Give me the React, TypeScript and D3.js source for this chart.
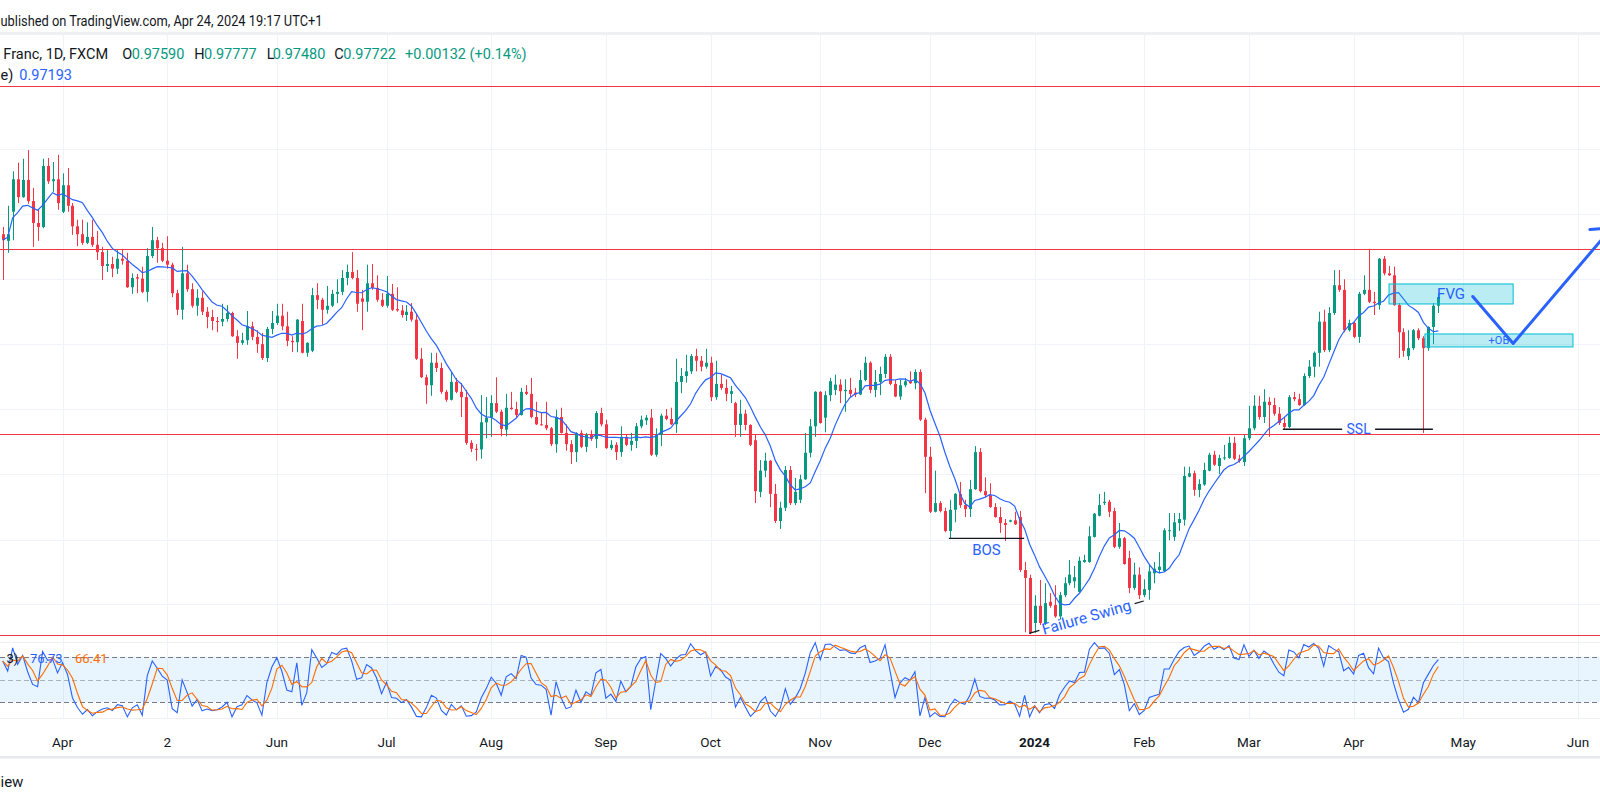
import React, { useRef, useEffect } from 'react';
import * as d3 from 'd3';

type Bar = [number, number, number, number]; // open, high, low, close

// EUR/CHF daily candles
const mar2023: Bar[] = [
  [0.9867, 0.9878, 0.9798, 0.9858], [0.9857, 0.9910, 0.9839, 0.9867], [0.9901, 0.9962, 0.9858, 0.9950],
  [0.9950, 0.9975, 0.9914, 0.9923], [0.9923, 0.9981, 0.9922, 0.9949], [0.9949, 0.9994, 0.9913, 0.9917],
  [0.9917, 0.9937, 0.9848, 0.9884], [0.9884, 0.9905, 0.9857, 0.9878], [0.9878, 0.9981, 0.9876, 0.9970],
  [0.9970, 0.9982, 0.9943, 0.9947], [0.9947, 0.9976, 0.9931, 0.9950], [0.9950, 0.9987, 0.9904, 0.9914],
];
const apr2023: Bar[] = [
  [0.9901, 0.9959, 0.9899, 0.9941], [0.9941, 0.9967, 0.9901, 0.9910], [0.9910, 0.9914, 0.9866, 0.9879],
  [0.9879, 0.9889, 0.9849, 0.9867], [0.9867, 0.9889, 0.9851, 0.9854], [0.9854, 0.9885, 0.9852, 0.9863],
  [0.9863, 0.9889, 0.9848, 0.9851], [0.9851, 0.9872, 0.9828, 0.9840], [0.9840, 0.9848, 0.9798, 0.9819],
  [0.9819, 0.9843, 0.9810, 0.9822], [0.9822, 0.9833, 0.9802, 0.9815], [0.9815, 0.9843, 0.9807, 0.9830],
  [0.9830, 0.9845, 0.9821, 0.9827], [0.9827, 0.9839, 0.9786, 0.9787], [0.9787, 0.9808, 0.9777, 0.9801],
  [0.9802, 0.9807, 0.9778, 0.9800], [0.9800, 0.9818, 0.9778, 0.9780], [0.9780, 0.9846, 0.9765, 0.9834],
  [0.9834, 0.9878, 0.9831, 0.9858], [0.9858, 0.9863, 0.9824, 0.9846],
];
const may2023: Bar[] = [
  [0.9846, 0.9854, 0.9825, 0.9827], [0.9827, 0.9864, 0.9815, 0.9821], [0.9821, 0.9824, 0.9772, 0.9778],
  [0.9778, 0.9783, 0.9745, 0.9753], [0.9753, 0.9848, 0.9738, 0.9808], [0.9808, 0.9821, 0.9780, 0.9784],
  [0.9784, 0.9793, 0.9756, 0.9759], [0.9759, 0.9784, 0.9744, 0.9771], [0.9771, 0.9781, 0.9745, 0.9750],
  [0.9750, 0.9757, 0.9725, 0.9742], [0.9742, 0.9753, 0.9722, 0.9736], [0.9736, 0.9742, 0.9719, 0.9735],
  [0.9735, 0.9762, 0.9728, 0.9739], [0.9739, 0.9760, 0.9735, 0.9748], [0.9748, 0.9750, 0.9712, 0.9713],
  [0.9713, 0.9722, 0.9679, 0.9703], [0.9703, 0.9718, 0.9700, 0.9707], [0.9707, 0.9751, 0.9700, 0.9728],
  [0.9728, 0.9735, 0.9707, 0.9712], [0.9712, 0.9722, 0.9688, 0.9701], [0.9701, 0.9718, 0.9677, 0.9680],
  [0.9680, 0.9727, 0.9674, 0.9724], [0.9724, 0.9751, 0.9716, 0.9733],
];
const jun2023: Bar[] = [
  [0.9733, 0.9762, 0.9730, 0.9744], [0.9744, 0.9762, 0.9722, 0.9728], [0.9728, 0.9750, 0.9698, 0.9706],
  [0.9706, 0.9713, 0.9689, 0.9704], [0.9704, 0.9739, 0.9689, 0.9738], [0.9736, 0.9762, 0.9687, 0.9688],
  [0.9688, 0.9704, 0.9682, 0.9703], [0.9691, 0.9786, 0.9689, 0.9775], [0.9775, 0.9793, 0.9754, 0.9768],
  [0.9768, 0.9771, 0.9730, 0.9753], [0.9753, 0.9789, 0.9747, 0.9759], [0.9759, 0.9783, 0.9757, 0.9777],
  [0.9777, 0.9799, 0.9763, 0.9780], [0.9780, 0.9813, 0.9775, 0.9801], [0.9801, 0.9821, 0.9790, 0.9810],
  [0.9810, 0.9840, 0.9799, 0.9801], [0.9801, 0.9813, 0.9750, 0.9762], [0.9770, 0.9783, 0.9722, 0.9765],
  [0.9765, 0.9821, 0.9750, 0.9793], [0.9793, 0.9822, 0.9783, 0.9786], [0.9786, 0.9805, 0.9765, 0.9768],
  [0.9768, 0.9778, 0.9757, 0.9759],
];
const jul2023: Bar[] = [
  [0.9759, 0.9804, 0.9756, 0.9777], [0.9777, 0.9792, 0.9751, 0.9753], [0.9754, 0.9787, 0.9750, 0.9752],
  [0.9752, 0.9760, 0.9741, 0.9745], [0.9745, 0.9760, 0.9736, 0.9750], [0.9750, 0.9763, 0.9735, 0.9738],
  [0.9738, 0.9747, 0.9677, 0.9679], [0.9679, 0.9695, 0.9650, 0.9651], [0.9651, 0.9655, 0.9611, 0.9639],
  [0.9639, 0.9688, 0.9623, 0.9673], [0.9673, 0.9688, 0.9659, 0.9665], [0.9665, 0.9673, 0.9626, 0.9629],
  [0.9629, 0.9632, 0.9614, 0.9617], [0.9617, 0.9659, 0.9616, 0.9644], [0.9644, 0.9650, 0.9627, 0.9629],
  [0.9629, 0.9642, 0.9591, 0.9621], [0.9621, 0.9632, 0.9549, 0.9552], [0.9552, 0.9556, 0.9538, 0.9543],
  [0.9543, 0.9550, 0.9525, 0.9542], [0.9542, 0.9624, 0.9528, 0.9583], [0.9583, 0.9621, 0.9559, 0.9590],
];
const aug2023: Bar[] = [
  [0.9590, 0.9624, 0.9561, 0.9612], [0.9612, 0.9651, 0.9597, 0.9599], [0.9599, 0.9602, 0.9562, 0.9573],
  [0.9572, 0.9626, 0.9562, 0.9605], [0.9605, 0.9629, 0.9602, 0.9603], [0.9603, 0.9614, 0.9590, 0.9594],
  [0.9594, 0.9635, 0.9593, 0.9629], [0.9629, 0.9639, 0.9624, 0.9626], [0.9626, 0.9650, 0.9589, 0.9591],
  [0.9591, 0.9614, 0.9579, 0.9580], [0.9580, 0.9597, 0.9578, 0.9579], [0.9579, 0.9614, 0.9571, 0.9574],
  [0.9574, 0.9576, 0.9547, 0.9550], [0.9550, 0.9602, 0.9537, 0.9591], [0.9591, 0.9605, 0.9566, 0.9567],
  [0.9567, 0.9580, 0.9540, 0.9550], [0.9550, 0.9556, 0.9520, 0.9538], [0.9538, 0.9568, 0.9523, 0.9567],
  [0.9567, 0.9571, 0.9544, 0.9546], [0.9546, 0.9567, 0.9538, 0.9564], [0.9564, 0.9571, 0.9555, 0.9558],
  [0.9558, 0.9600, 0.9544, 0.9597], [0.9597, 0.9605, 0.9577, 0.9580],
];
const sep2023: Bar[] = [
  [0.9580, 0.9587, 0.9543, 0.9544], [0.9544, 0.9556, 0.9541, 0.9549], [0.9549, 0.9553, 0.9526, 0.9538],
  [0.9538, 0.9577, 0.9531, 0.9561], [0.9561, 0.9565, 0.9547, 0.9549], [0.9549, 0.9567, 0.9540, 0.9555],
  [0.9555, 0.9582, 0.9544, 0.9577], [0.9577, 0.9593, 0.9574, 0.9587], [0.9586, 0.9594, 0.9579, 0.9590],
  [0.9590, 0.9603, 0.9532, 0.9534], [0.9534, 0.9574, 0.9531, 0.9564], [0.9564, 0.9596, 0.9547, 0.9593],
  [0.9593, 0.9603, 0.9586, 0.9588], [0.9588, 0.9605, 0.9579, 0.9580], [0.9580, 0.9679, 0.9567, 0.9644],
  [0.9644, 0.9665, 0.9627, 0.9653], [0.9653, 0.9685, 0.9643, 0.9660], [0.9660, 0.9686, 0.9656, 0.9683],
  [0.9683, 0.9694, 0.9660, 0.9676], [0.9676, 0.9683, 0.9660, 0.9667], [0.9667, 0.9694, 0.9664, 0.9673],
];
const oct2023: Bar[] = [
  [0.9673, 0.9682, 0.9615, 0.9621], [0.9621, 0.9676, 0.9617, 0.9641], [0.9641, 0.9655, 0.9632, 0.9635],
  [0.9635, 0.9648, 0.9615, 0.9626], [0.9626, 0.9638, 0.9612, 0.9630], [0.9612, 0.9614, 0.9561, 0.9579],
  [0.9579, 0.9617, 0.9561, 0.9596], [0.9596, 0.9602, 0.9571, 0.9579], [0.9579, 0.9580, 0.9547, 0.9549],
  [0.9556, 0.9565, 0.9461, 0.9479], [0.9478, 0.9526, 0.9470, 0.9510], [0.9510, 0.9537, 0.9500, 0.9525],
  [0.9525, 0.9526, 0.9455, 0.9475], [0.9475, 0.9490, 0.9431, 0.9434], [0.9434, 0.9463, 0.9422, 0.9454],
  [0.9454, 0.9517, 0.9449, 0.9511], [0.9511, 0.9517, 0.9458, 0.9461], [0.9461, 0.9499, 0.9458, 0.9478],
  [0.9466, 0.9504, 0.9461, 0.9497], [0.9497, 0.9567, 0.9496, 0.9537], [0.9537, 0.9588, 0.9530, 0.9577],
  [0.9577, 0.9630, 0.9561, 0.9629],
];
const nov2023: Bar[] = [
  [0.9629, 0.9630, 0.9581, 0.9582], [0.9590, 0.9630, 0.9568, 0.9624], [0.9624, 0.9650, 0.9615, 0.9645],
  [0.9632, 0.9655, 0.9624, 0.9640], [0.9640, 0.9648, 0.9612, 0.9630], [0.9630, 0.9648, 0.9599, 0.9632],
  [0.9632, 0.9650, 0.9621, 0.9626], [0.9628, 0.9635, 0.9621, 0.9625], [0.9625, 0.9662, 0.9624, 0.9647],
  [0.9647, 0.9682, 0.9645, 0.9673], [0.9673, 0.9675, 0.9627, 0.9632], [0.9632, 0.9662, 0.9621, 0.9644],
  [0.9644, 0.9667, 0.9624, 0.9656], [0.9656, 0.9686, 0.9650, 0.9682], [0.9682, 0.9686, 0.9639, 0.9641],
  [0.9641, 0.9647, 0.9621, 0.9622], [0.9622, 0.9647, 0.9617, 0.9639], [0.9639, 0.9650, 0.9636, 0.9645],
  [0.9645, 0.9660, 0.9641, 0.9642], [0.9642, 0.9663, 0.9633, 0.9659], [0.9659, 0.9663, 0.9585, 0.9587],
  [0.9587, 0.9590, 0.9476, 0.9531],
];
const dec2023: Bar[] = [
  [0.9531, 0.9546, 0.9446, 0.9448], [0.9448, 0.9510, 0.9447, 0.9461], [0.9461, 0.9464, 0.9447, 0.9449],
  [0.9449, 0.9454, 0.9417, 0.9419], [0.9419, 0.9466, 0.9408, 0.9451], [0.9451, 0.9476, 0.9432, 0.9475],
  [0.9475, 0.9493, 0.9454, 0.9458], [0.9458, 0.9466, 0.9440, 0.9452], [0.9452, 0.9496, 0.9440, 0.9482],
  [0.9482, 0.9547, 0.9481, 0.9538], [0.9538, 0.9544, 0.9477, 0.9479], [0.9479, 0.9500, 0.9470, 0.9473],
  [0.9473, 0.9491, 0.9454, 0.9455], [0.9455, 0.9461, 0.9439, 0.9440], [0.9440, 0.9455, 0.9416, 0.9431],
  [0.9431, 0.9437, 0.9404, 0.9428], [0.9433, 0.9436, 0.9432, 0.9435], [0.9435, 0.9448, 0.9428, 0.9429],
  [0.9440, 0.9449, 0.9357, 0.9360], [0.9360, 0.9372, 0.9266, 0.9348], [0.9348, 0.9353, 0.9263, 0.9265],
];
const jan2024: Bar[] = [
  [0.9280, 0.9322, 0.9265, 0.9306], [0.9306, 0.9345, 0.9277, 0.9280], [0.9280, 0.9340, 0.9277, 0.9310],
  [0.9312, 0.9325, 0.9303, 0.9306], [0.9307, 0.9337, 0.9288, 0.9290], [0.9290, 0.9327, 0.9285, 0.9322],
  [0.9322, 0.9349, 0.9319, 0.9340], [0.9340, 0.9375, 0.9337, 0.9353], [0.9343, 0.9366, 0.9333, 0.9349],
  [0.9327, 0.9380, 0.9326, 0.9374], [0.9372, 0.9383, 0.9371, 0.9375], [0.9372, 0.9426, 0.9371, 0.9411],
  [0.9410, 0.9446, 0.9409, 0.9445], [0.9442, 0.9475, 0.9441, 0.9458], [0.9461, 0.9478, 0.9458, 0.9463],
  [0.9463, 0.9466, 0.9440, 0.9448], [0.9449, 0.9454, 0.9393, 0.9395], [0.9395, 0.9431, 0.9392, 0.9408],
  [0.9408, 0.9410, 0.9368, 0.9369], [0.9378, 0.9389, 0.9325, 0.9333], [0.9333, 0.9371, 0.9330, 0.9353],
  [0.9353, 0.9364, 0.9316, 0.9322],
];
const feb2024: Bar[] = [
  [0.9322, 0.9346, 0.9319, 0.9331], [0.9330, 0.9368, 0.9315, 0.9358], [0.9355, 0.9372, 0.9340, 0.9362],
  [0.9360, 0.9387, 0.9355, 0.9365], [0.9358, 0.9423, 0.9357, 0.9420], [0.9419, 0.9446, 0.9405, 0.9420],
  [0.9410, 0.9446, 0.9404, 0.9432], [0.9431, 0.9446, 0.9419, 0.9437], [0.9436, 0.9516, 0.9427, 0.9502],
  [0.9501, 0.9516, 0.9500, 0.9506], [0.9506, 0.9510, 0.9472, 0.9481], [0.9481, 0.9497, 0.9470, 0.9490],
  [0.9489, 0.9522, 0.9487, 0.9511], [0.9510, 0.9537, 0.9509, 0.9534], [0.9534, 0.9540, 0.9517, 0.9519],
  [0.9517, 0.9534, 0.9505, 0.9529], [0.9529, 0.9549, 0.9526, 0.9530], [0.9529, 0.9561, 0.9528, 0.9552],
  [0.9552, 0.9561, 0.9526, 0.9528], [0.9528, 0.9534, 0.9522, 0.9525], [0.9523, 0.9564, 0.9517, 0.9559],
];
const mar2024: Bar[] = [
  [0.9559, 0.9608, 0.9556, 0.9574], [0.9574, 0.9624, 0.9571, 0.9608], [0.9608, 0.9623, 0.9587, 0.9591],
  [0.9591, 0.9633, 0.9582, 0.9614], [0.9614, 0.9621, 0.9561, 0.9609], [0.9609, 0.9620, 0.9593, 0.9596],
  [0.9596, 0.9606, 0.9579, 0.9582], [0.9582, 0.9591, 0.9573, 0.9576], [0.9576, 0.9624, 0.9574, 0.9621],
  [0.9621, 0.9629, 0.9615, 0.9618], [0.9618, 0.9626, 0.9608, 0.9609], [0.9609, 0.9657, 0.9608, 0.9653],
  [0.9653, 0.9677, 0.9650, 0.9667], [0.9667, 0.9690, 0.9651, 0.9688], [0.9688, 0.9750, 0.9667, 0.9735],
  [0.9735, 0.9753, 0.9689, 0.9692], [0.9692, 0.9757, 0.9689, 0.9748], [0.9748, 0.9813, 0.9745, 0.9790],
  [0.9790, 0.9813, 0.9780, 0.9783], [0.9783, 0.9799, 0.9719, 0.9722], [0.9722, 0.9738, 0.9720, 0.9733],
];
const apr2024: Bar[] = [
  [0.9733, 0.9735, 0.9710, 0.9712], [0.9712, 0.9780, 0.9703, 0.9777], [0.9777, 0.9805, 0.9775, 0.9783],
  [0.9783, 0.9845, 0.9763, 0.9765], [0.9765, 0.9780, 0.9745, 0.9763], [0.9760, 0.9831, 0.9753, 0.9830],
  [0.9830, 0.9834, 0.9805, 0.9808], [0.9808, 0.9819, 0.9804, 0.9805], [0.9805, 0.9818, 0.9759, 0.9760],
  [0.9760, 0.9763, 0.9680, 0.9719], [0.9719, 0.9725, 0.9682, 0.9691], [0.9683, 0.9722, 0.9677, 0.9695],
  [0.9695, 0.9724, 0.9692, 0.9722], [0.9722, 0.9725, 0.9707, 0.9710], [0.9710, 0.9713, 0.9567, 0.9695],
  [0.9695, 0.9728, 0.9691, 0.9727], [0.9727, 0.9763, 0.9701, 0.9759], [0.97590, 0.97777, 0.97480, 0.97722],
];

const candles: Bar[] = [
  ...mar2023, ...apr2023, ...may2023, ...jun2023, ...jul2023, ...aug2023, ...sep2023,
  ...oct2023, ...nov2023, ...dec2023, ...jan2024, ...feb2024, ...mar2024, ...apr2024,
];

// trading calendar (weekdays, no bar on New Year's Day)
const firstDay = '2023-03-16';
const lastDay = '2024-06-28';
const missingDays = ['2024-01-01'];

const tickDays = ['2023-04-03', '2023-05-02', '2023-06-01', '2023-07-03', '2023-08-01', '2023-09-01', '2023-10-02',
  '2023-11-01', '2023-12-01', '2024-01-02', '2024-02-01', '2024-03-01', '2024-04-01', '2024-05-01', '2024-06-03'];
const tickLabels = ['Apr', '2', 'Jun', 'Jul', 'Aug', 'Sep', 'Oct', 'Nov', 'Dec', '2024', 'Feb', 'Mar', 'Apr', 'May', 'Jun'];

const maLength = 9;
const stochLength = 14;
const stochSmooth = 3;

// horizontal rays (price) and price grid
const levels = [1.0091, 0.9845, 0.9565, 0.9262];
const gridLevels = [0.9308, 0.9406, 0.9505, 0.9603, 0.9701, 0.9799, 0.9897, 0.9995];
const stochLevels = [80, 50, 20];

// drawings in [bar index, price]
const sslLine = [[256.8, 0.95725], [286.9, 0.95725]];
const sslGap = [268.7, 275.3];
const bosLine = [[189.8, 0.94079], [204.9, 0.94079]];
const swingLine = [[205.9, 0.92644], [228.9, 0.93132]];
const fvgBox = [[278.1, 0.97919], [303.0, 0.97617]];
const obBox = [[285.3, 0.97164], [315.0, 0.96968]];
const arrowPath = [[294.9, 0.9773], [303.0, 0.9702], [322.8, 0.9877]];
const arrowWing = [318.4, 0.9874];

const W = 1600;
const H = 802;
const FONT = 'Roboto, "Noto Sans", sans-serif';
const UP = '#089981';
const DOWN = '#f23645';
const BLUE = '#2962ff';

const App: React.FC = () => {
  const svgRef = useRef<SVGSVGElement | null>(null);

  useEffect(() => {
    if (!svgRef.current) return;
    const svg = d3.select(svgRef.current);
    svg.selectAll('*').remove();

    // calendar
    const days: string[] = [];
    const end = new Date(lastDay + 'T00:00:00Z');
    for (let d = new Date(firstDay + 'T00:00:00Z'); d <= end; d.setUTCDate(d.getUTCDate() + 1)) {
      const wd = d.getUTCDay();
      const key = d.toISOString().slice(0, 10);
      if (wd !== 0 && wd !== 6 && !missingDays.includes(key)) days.push(key);
    }

    const x = d3.scaleLinear().domain([0, 320]).range([2.7, 1597.9]);
    const y = d3.scaleLinear().domain([0.92, 1.01]).range([675.96, 79.93]);
    const ys = d3.scaleLinear().domain([0, 100]).range([717.3, 642.3]);

    // indicators
    const closes = candles.map(c => c[3]);
    const ma = closes.map((_, i) => d3.mean(closes.slice(Math.max(0, i - maLength + 1), i + 1)) as number);
    const k = candles.map((c, i) => {
      const win = candles.slice(Math.max(0, i - stochLength + 1), i + 1);
      const hh = d3.max(win, b => b[1]) as number;
      const ll = d3.min(win, b => b[2]) as number;
      return hh === ll ? 50 : (100 * (c[3] - ll)) / (hh - ll);
    });
    const dLine = k.map((_, i) => d3.mean(k.slice(Math.max(0, i - stochSmooth + 1), i + 1)) as number);

    svg.append('rect').attr('width', W).attr('height', H).attr('fill', '#ffffff');

    // grid
    const grid = svg.append('g').attr('stroke', '#f0f3fa').attr('stroke-width', 1);
    tickDays.forEach(t => {
      const xi = Math.round(x(days.indexOf(t))) + 0.5;
      grid.append('line').attr('x1', xi).attr('x2', xi).attr('y1', 35).attr('y2', 718);
    });
    gridLevels.forEach(p => {
      const yy = Math.round(y(p)) + 0.5;
      grid.append('line').attr('x1', 0).attr('x2', W).attr('y1', yy).attr('y2', yy);
    });

    // header separator and pane borders
    svg.append('rect').attr('x', 0).attr('y', 32).attr('width', W).attr('height', 3).attr('fill', '#eef0f4');
    svg.append('line').attr('x1', 0).attr('x2', W).attr('y1', 642.5).attr('y2', 642.5).attr('stroke', '#eef0f4');
    svg.append('line').attr('x1', 0).attr('x2', W).attr('y1', 718.5).attr('y2', 718.5).attr('stroke', '#eef0f4');
    svg.append('rect').attr('x', 0).attr('y', 756).attr('width', W).attr('height', 2.5).attr('fill', '#e6e8ee');

    // stochastic band
    svg.append('rect').attr('x', 0).attr('width', W)
      .attr('y', ys(stochLevels[0])).attr('height', ys(stochLevels[2]) - ys(stochLevels[0]))
      .attr('fill', 'rgba(33,150,243,0.1)');
    stochLevels.forEach((lv, i) => {
      const yy = Math.round(ys(lv)) + 0.5;
      svg.append('line').attr('x1', 0).attr('x2', W).attr('y1', yy).attr('y2', yy)
        .attr('stroke', '#787b86').attr('stroke-opacity', i === 1 ? 0.55 : 1)
        .attr('stroke-dasharray', '5,3');
    });

    // horizontal rays
    levels.forEach(p => {
      const yy = Math.round(y(p)) + 0.5;
      svg.append('line').attr('x1', 0).attr('x2', W).attr('y1', yy).attr('y2', yy)
        .attr('stroke', DOWN).attr('stroke-width', 1.2);
    });

    // candles
    const cg = svg.append('g');
    candles.forEach((c, i) => {
      const [o, h, l, cl] = c;
      const col = cl >= o ? UP : DOWN;
      const cx = Math.round(x(i));
      cg.append('line').attr('x1', cx + 0.5).attr('x2', cx + 0.5)
        .attr('y1', y(Math.max(h, o, cl))).attr('y2', y(Math.min(l, o, cl)))
        .attr('stroke', col).attr('stroke-width', 1);
      const top = y(Math.max(o, cl));
      const bh = Math.max(1, y(Math.min(o, cl)) - top);
      cg.append('rect').attr('x', cx - 1).attr('y', top).attr('width', 3).attr('height', bh).attr('fill', col);
    });

    // moving average
    const line = d3.line<number>().x((_, i) => x(i)).y(v => y(v));
    svg.append('path').attr('d', line(ma)).attr('fill', 'none').attr('stroke', BLUE).attr('stroke-width', 1.2);

    const label = (tx: number, ty: number, s: string, size: number, color: string,
      anchor = 'start', weight = 'normal') =>
      svg.append('text').attr('x', tx).attr('y', ty).text(s)
        .attr('font-family', FONT).attr('font-size', size).attr('fill', color)
        .attr('text-anchor', anchor).attr('font-weight', weight);

    // SSL
    const segs = [[sslLine[0][0], sslGap[0]], [sslGap[1], sslLine[1][0]]];
    segs.forEach(([a, b]) => {
      svg.append('line').attr('x1', x(a)).attr('x2', x(b)).attr('y1', y(sslLine[0][1])).attr('y2', y(sslLine[0][1]))
        .attr('stroke', '#131722').attr('stroke-width', 1.3);
    });
    label(x((sslGap[0] + sslGap[1]) / 2), y(sslLine[0][1]) + 5, 'SSL', 14, BLUE, 'middle');

    // BOS
    svg.append('line').attr('x1', x(bosLine[0][0])).attr('x2', x(bosLine[1][0]))
      .attr('y1', y(bosLine[0][1])).attr('y2', y(bosLine[1][1])).attr('stroke', '#131722').attr('stroke-width', 1.3);
    label(x((bosLine[0][0] + bosLine[1][0]) / 2), y(bosLine[0][1]) + 17, 'BOS', 15, BLUE, 'middle');

    // failure swing trend line with its text in the middle
    const sx1 = x(swingLine[0][0]), sy1 = y(swingLine[0][1]);
    const sx2 = x(swingLine[1][0]), sy2 = y(swingLine[1][1]);
    const lerp = (t: number) => [sx1 + (sx2 - sx1) * t, sy1 + (sy2 - sy1) * t];
    [[0, 0.09], [0.92, 1]].forEach(([a, b]) => {
      const p = lerp(a), q = lerp(b);
      svg.append('line').attr('x1', p[0]).attr('y1', p[1]).attr('x2', q[0]).attr('y2', q[1])
        .attr('stroke', '#131722').attr('stroke-width', 1.2);
    });
    const ang = (Math.atan2(sy2 - sy1, sx2 - sx1) * 180) / Math.PI;
    const mid = lerp(0.5);
    svg.append('text').attr('transform', `translate(${mid[0]},${mid[1]}) rotate(${ang})`)
      .attr('text-anchor', 'middle').attr('dy', '0.35em').text('Failure Swing')
      .attr('font-family', FONT).attr('font-size', 15.5).attr('fill', BLUE);

    // boxes
    const box = (b: number[][], txt: string, size: number) => {
      const x0 = x(b[0][0]), x1 = x(b[1][0]);
      const y0 = y(b[0][1]), y1 = y(b[1][1]);
      svg.append('rect').attr('x', x0).attr('y', y0).attr('width', x1 - x0).attr('height', y1 - y0)
        .attr('fill', 'rgba(0,188,212,0.27)').attr('stroke', '#00bcd4').attr('stroke-width', 1);
      label((x0 + x1) / 2, (y0 + y1) / 2 + size * 0.36, txt, size, BLUE, 'middle');
    };
    box(fvgBox, 'FVG', 15);
    box(obBox, '+OB', 11);

    // projected path
    const ap = d3.line<number[]>().x(p => x(p[0])).y(p => y(p[1]));
    svg.append('path').attr('d', ap(arrowPath)).attr('fill', 'none').attr('stroke', BLUE)
      .attr('stroke-width', 3).attr('stroke-linejoin', 'round').attr('stroke-linecap', 'round');
    const tip = arrowPath[arrowPath.length - 1];
    svg.append('line').attr('x1', x(tip[0])).attr('y1', y(tip[1])).attr('x2', x(arrowWing[0])).attr('y2', y(arrowWing[1]))
      .attr('stroke', BLUE).attr('stroke-width', 3).attr('stroke-linecap', 'round');

    // stochastic
    const sl = d3.line<number>().x((_, i) => x(i)).y(v => ys(v));
    svg.append('path').attr('d', sl(k)).attr('fill', 'none').attr('stroke', BLUE).attr('stroke-width', 1.1);
    svg.append('path').attr('d', sl(dLine)).attr('fill', 'none').attr('stroke', '#ff6d00').attr('stroke-width', 1.1);

    // time axis
    tickDays.forEach((t, i) => {
      label(x(days.indexOf(t)), 746.5, tickLabels[i], 13.5, '#131722', 'middle', tickLabels[i] === '2024' ? 'bold' : 'normal');
    });

    // header and legends (the snapshot is cropped on the left)
    label(0.5, 25.5, 'ublished on TradingView.com, Apr 24, 2024 19:17 UTC+1', 15, '#131722')
      .attr('textLength', 322).attr('lengthAdjust', 'spacingAndGlyphs');
    const dark = '#131722';
    const ly = 58.5;
    const fs = 14.5;
    label(3.3, ly, 'Franc, 1D, FXCM', fs, dark);
    label(122.3, ly, 'O', fs, dark);
    label(131.7, ly, '0.97590', fs, UP);
    label(194.3, ly, 'H', fs, dark);
    label(204, ly, '0.97777', fs, UP);
    label(266.7, ly, 'L', fs, dark);
    label(272.7, ly, '0.97480', fs, UP);
    label(334.3, ly, 'C', fs, dark);
    label(343.3, ly, '0.97722', fs, UP);
    label(405, ly, '+0.00132 (+0.14%)', fs, UP);
    label(0.5, 79.5, 'e)', fs, dark);
    label(19.3, 79.5, '0.97193', fs, BLUE);

    label(6.5, 663, '3)', 13, dark);
    label(30, 663, '76.73', 13, BLUE);
    label(75, 663, '66.41', 13, '#ff6d00');

    label(0.5, 786.5, 'iew', 15, dark);
  }, []);

  return (
    <div style={{ position: 'fixed', left: 0, top: 0, width: W, height: H, background: '#fff' }}>
      <svg ref={svgRef} width={W} height={H} style={{ display: 'block' }} />
    </div>
  );
};

export default App;
